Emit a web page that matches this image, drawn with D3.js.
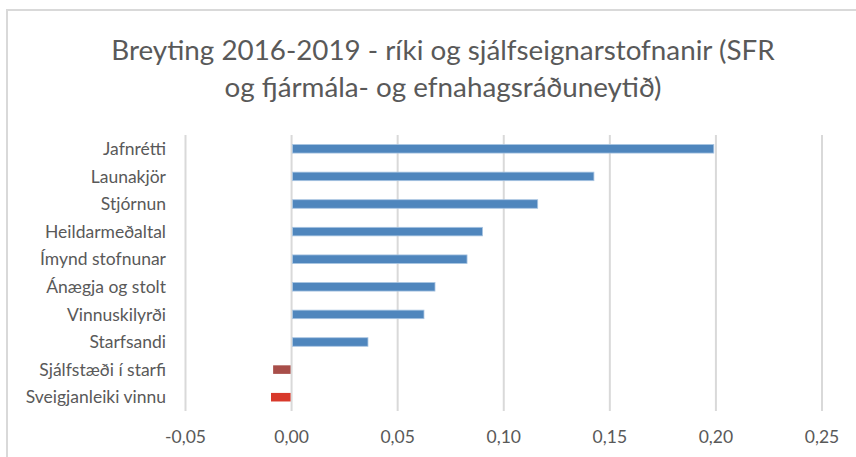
<!DOCTYPE html>
<html>
<head>
<meta charset="utf-8">
<script src="https://cdn.jsdelivr.net/npm/d3@7"></script>
<style>
  html, body { margin: 0; padding: 0; background: #fff; }
  svg { display: block; font-family: Lato, "Open Sans", sans-serif; }
</style>
</head>
<body>
<div id="chart"></div>
<script>
const categories = [
  "Jafnrétti", "Launakjör", "Stjórnun", "Heildarmeðaltal", "Ímynd stofnunar",
  "Ánægja og stolt", "Vinnuskilyrði", "Starfsandi", "Sjálfstæði í starfi", "Sveigjanleiki vinnu"
];
const values = [0.199, 0.1425, 0.116, 0.090, 0.0827, 0.0676, 0.0624, 0.036, -0.0087, -0.0097];
const barColors = ["#4f86bd", "#4f86bd", "#4f86bd", "#4f86bd", "#4f86bd",
  "#4f86bd", "#4f86bd", "#4f86bd", "#a84e49", "#d8392b"];
const tickValues = [-0.05, 0, 0.05, 0.10, 0.15, 0.20, 0.25];
const titleLines = [
  "Breyting 2016-2019 - ríki og sjálfseignarstofnanir (SFR",
  "og fjármála- og efnahagsráðuneytið)"
];

const width = 856, height = 457;
const svg = d3.select("#chart").append("svg")
  .attr("width", width)
  .attr("height", height);

// chart frame (runs off the right/bottom edge like the original)
svg.append("rect")
  .attr("x", 7).attr("y", 10)
  .attr("width", 900).attr("height", 500)
  .attr("fill", "#fff")
  .attr("stroke", "#d9d9d9")
  .attr("stroke-width", 2);

// title
svg.append("g").selectAll("text")
  .data(titleLines)
  .join("text")
  .attr("x", 443)
  .attr("y", (d, i) => 60 + i * 37)
  .attr("text-anchor", "middle")
  .attr("fill", "#595959")
  .style("font-size", "27.8px")
  .text(d => d);

const x = d3.scaleLinear().domain([-0.05, 0.25]).range([185.5, 822]);
const y = d3.scaleBand().domain(categories).range([135, 411]).paddingInner(0.69).paddingOuter(0.345);

// gridlines
svg.append("g").selectAll("line")
  .data(tickValues)
  .join("line")
  .attr("x1", d => x(d)).attr("x2", d => x(d))
  .attr("y1", 135).attr("y2", 411)
  .attr("stroke", "#d9d9d9")
  .attr("stroke-width", 2);

// bars
svg.append("g").selectAll("rect")
  .data(values)
  .join("rect")
  .attr("x", d => x(Math.min(0, d)) + (d > 0 ? 1 : 0))
  .attr("y", (d, i) => y(categories[i]))
  .attr("width", d => Math.abs(x(d) - x(0)) - 1)
  .attr("height", y.bandwidth())
  .attr("fill", (d, i) => barColors[i])
  .attr("stroke", (d, i) => d > 0 ? "#a9c5e2" : "none")
  .attr("stroke-width", 0.8);

// category labels
svg.append("g").selectAll("text")
  .data(categories)
  .join("text")
  .attr("x", 166)
  .attr("y", d => y(d) + y.bandwidth() / 2)
  .attr("dy", "0.35em")
  .attr("text-anchor", "end")
  .attr("fill", "#595959")
  .style("font-size", "17.5px")
  .text(d => d);

// x tick labels
const fmt = d => d3.format(".2f")(d).replace(".", ",").replace("−", "-");
svg.append("g").selectAll("text")
  .data(tickValues)
  .join("text")
  .attr("x", d => x(d))
  .attr("y", 443)
  .attr("text-anchor", "middle")
  .attr("fill", "#595959")
  .style("font-size", "17.5px")
  .text(d => fmt(d));
</script>
</body>
</html>
